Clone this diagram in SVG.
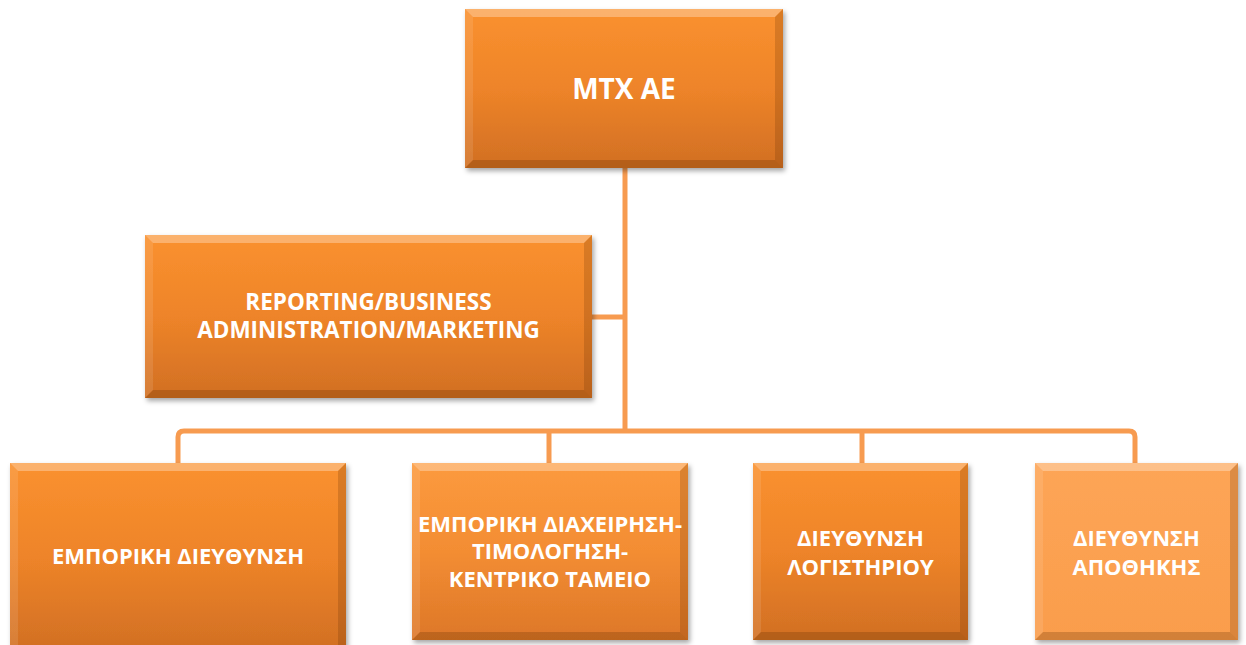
<svg xmlns="http://www.w3.org/2000/svg" width="1246" height="645" viewBox="0 0 1246 645">
<style>
.lbl{font-family:"Open Sans","Noto Sans","DejaVu Sans",sans-serif;font-weight:bold;fill:#fff;text-anchor:middle}
.conn{fill:none;stroke:#F79B50;stroke-width:5}
.bt{fill:#fff;opacity:.3}
.bb{fill:#5a2a00;opacity:.25}
.bl{fill:#fff;opacity:.1}
.br{fill:#5a2a00;opacity:.2}
</style>
<defs>
<linearGradient id="g" x1="0" y1="0" x2="0" y2="1">
<stop offset="0" stop-color="#FA912F"/>
<stop offset="0.5" stop-color="#EE8429"/>
<stop offset="1" stop-color="#D16F23"/>
</linearGradient>
<linearGradient id="g2" x1="0" y1="0" x2="0" y2="1">
<stop offset="0" stop-color="#FC9A3E"/>
<stop offset="0.5" stop-color="#F38D33"/>
<stop offset="1" stop-color="#DD7728"/>
</linearGradient>
<linearGradient id="g3" x1="0" y1="0" x2="0" y2="1">
<stop offset="0" stop-color="#FDA556"/>
<stop offset="1" stop-color="#FA9D4C"/>
</linearGradient>
<filter id="sh" x="-10%" y="-10%" width="125%" height="130%">
<feDropShadow dx="2" dy="3" stdDeviation="2.5" flood-color="#000" flood-opacity="0.35"/>
</filter>
</defs>
<g id="connectors">
<path class="conn" d="M625,168 V431"/>
<path class="conn" d="M592,317 H625"/>
<path class="conn" d="M178,463 V437 Q178,431 184,431 H1129 Q1135,431 1135,437 V463"/>
<path class="conn" d="M549,431 V463"/>
<path class="conn" d="M862,431 V463"/>
</g>
<g id="n_mtx">
<rect x="465" y="9" width="318" height="159" fill="url(#g)" filter="url(#sh)"/>
<polygon class="bt" points="465,9 783,9 775,17 473,17"/>
<polygon class="bb" points="465,168 783,168 775,160 473,160"/>
<polygon class="bl" points="465,9 473,17 473,160 465,168"/>
<polygon class="br" points="783,9 775,17 775,160 783,168"/>
<text class="lbl" x="624" y="99" font-size="28">MTX AE</text>
</g>
<g id="n_reporting">
<rect x="145" y="235" width="447" height="163" fill="url(#g)" filter="url(#sh)"/>
<polygon class="bt" points="145,235 592,235 584,243 153,243"/>
<polygon class="bb" points="145,398 592,398 584,390 153,390"/>
<polygon class="bl" points="145,235 153,243 153,390 145,398"/>
<polygon class="br" points="592,235 584,243 584,390 592,398"/>
<text class="lbl" x="368.5" y="310" font-size="22.5">REPORTING/BUSINESS</text>
<text class="lbl" x="368.5" y="338" font-size="22.5">ADMINISTRATION/MARKETING</text>
</g>
<g id="n_emporiki">
<rect x="10" y="463" width="336" height="189" fill="url(#g)" filter="url(#sh)"/>
<polygon class="bt" points="10,463 346,463 338,471 18,471"/>
<polygon class="bl" points="10,463 18,471 18,652 10,652"/>
<polygon class="br" points="346,463 338,471 338,652 346,652"/>
<text class="lbl" x="178" y="564" font-size="22">ΕΜΠΟΡΙΚΗ ΔΙΕΥΘΥΝΣΗ</text>
</g>
<g id="n_diaxeirisi">
<rect x="412" y="463" width="276" height="177" fill="url(#g2)" filter="url(#sh)"/>
<polygon class="bt" points="412,463 688,463 680,471 420,471"/>
<polygon class="bb" points="412,640 688,640 680,632 420,632"/>
<polygon class="bl" points="412,463 420,471 420,632 412,640"/>
<polygon class="br" points="688,463 680,471 680,632 688,640"/>
<text class="lbl" x="550" y="532" font-size="22">ΕΜΠΟΡΙΚΗ ΔΙΑΧΕΙΡΗΣΗ-</text>
<text class="lbl" x="550" y="559" font-size="22">ΤΙΜΟΛΟΓΗΣΗ-</text>
<text class="lbl" x="550" y="587" font-size="22">ΚΕΝΤΡΙΚΟ ΤΑΜΕΙΟ</text>
</g>
<g id="n_logistirio">
<rect x="753" y="463" width="215" height="177" fill="url(#g)" filter="url(#sh)"/>
<polygon class="bt" points="753,463 968,463 960,471 761,471"/>
<polygon class="bb" points="753,640 968,640 960,632 761,632"/>
<polygon class="bl" points="753,463 761,471 761,632 753,640"/>
<polygon class="br" points="968,463 960,471 960,632 968,640"/>
<text class="lbl" x="860.5" y="546" font-size="22">ΔΙΕΥΘΥΝΣΗ</text>
<text class="lbl" x="860.5" y="575" font-size="22">ΛΟΓΙΣΤΗΡΙΟΥ</text>
</g>
<g id="n_apothiki">
<rect x="1035" y="463" width="203" height="177" fill="url(#g3)" filter="url(#sh)"/>
<polygon class="bt" points="1035,463 1238,463 1230,471 1043,471"/>
<polygon class="bb" points="1035,640 1238,640 1230,632 1043,632"/>
<polygon class="bl" points="1035,463 1043,471 1043,632 1035,640"/>
<polygon class="br" points="1238,463 1230,471 1230,632 1238,640"/>
<text class="lbl" x="1136.5" y="546" font-size="22">ΔΙΕΥΘΥΝΣΗ</text>
<text class="lbl" x="1136.5" y="575" font-size="22">ΑΠΟΘΗΚΗΣ</text>
</g>
</svg>
